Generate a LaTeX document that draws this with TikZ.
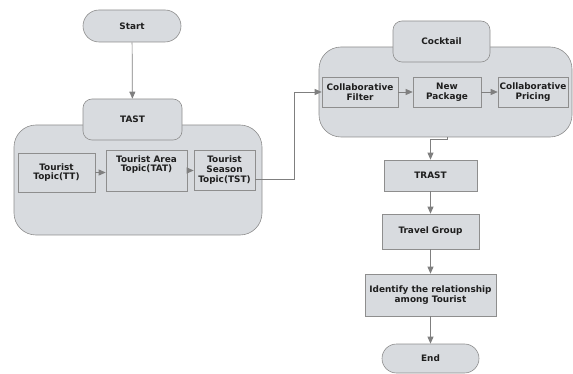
\documentclass[tikz,border=0pt]{standalone}
\usepackage{fontspec}
\setmainfont{DejaVu Sans}
\usetikzlibrary{arrows.meta}
\definecolor{boxfill}{HTML}{D8DBDF}
\definecolor{boxline}{HTML}{8E8E8E}
\definecolor{arrowc}{HTML}{7F7F7F}
\definecolor{txt}{HTML}{1E1E1E}
\begin{document}
\begin{tikzpicture}[x=1pt,y=-1pt,
  base/.style={draw=boxline, fill=boxfill, line width=0.6pt, inner sep=1pt, align=center,
    text=txt, font=\fontsize{8.9}{9.8}\selectfont\bfseries},
  rbox/.style={base, rectangle},
  stadium/.style={base, rounded corners=#1},
  cont/.style={base, rounded corners=22pt},
  conn/.style={draw=arrowc, line width=0.7pt, -{Triangle[length=7pt,width=6pt]}},
  plain/.style={draw=arrowc, line width=0.7pt}
]
\useasboundingbox (0,0) rectangle (573,374);
% Start
\node[stadium=16pt, minimum width=98pt, minimum height=32pt] (start) at (132,26) {Start};
% TAST container and tab
\node[cont, minimum width=248pt, minimum height=110pt] (tastc) at (138,180) {};
\node[stadium=9pt, minimum width=99pt, minimum height=41pt] (tast) at (132.5,119.5) {TAST};
\node[rbox, minimum width=77pt, minimum height=39pt] (tt) at (56.5,172.5) {Tourist\\Topic(TT)};
\node[rbox, minimum width=81pt, minimum height=41pt] (tat) at (146.5,170.5) {Tourist Area\\Topic(TAT)\\[4pt]};
\node[rbox, minimum width=61pt, minimum height=40pt, inner sep=0pt] (tst) at (224.5,170) {Tourist\\Season\\Topic(TST)};
% Cocktail container and tab
\node[cont, minimum width=253pt, minimum height=90pt] (cockc) at (445.5,92) {};
\node[stadium=9pt, minimum width=97pt, minimum height=41pt] (cock) at (441.5,41.5) {Cocktail};
\node[rbox, minimum width=76pt, minimum height=30pt, inner sep=0pt] (cf) at (360,92) {Collaborative\\Filter};
\node[rbox, minimum width=68pt, minimum height=30pt] (np) at (447,92) {New\\Package};
\node[rbox, minimum width=70pt, minimum height=30pt, inner sep=0pt] (cp) at (533,92) {Collaborative\\Pricing};
% Lower chain
\node[rbox, minimum width=93pt, minimum height=31pt] (trast) at (430.5,175.5) {TRAST};
\node[rbox, minimum width=97pt, minimum height=35pt] (tg) at (430.5,231.5) {Travel Group};
\node[rbox, minimum width=131pt, minimum height=42pt, inner sep=0pt] (idf) at (430.5,295) {Identify the relationship\\among Tourist};
\node[stadium=14.5pt, minimum width=97pt, minimum height=29pt] (end) at (430.5,358.5) {End};
% Connectors
\draw[conn] (start) -- (tast);
\draw[conn] (tt.east) -- (tt.east -| tat.west);
\draw[conn] (tat.east) -- (tat.east -| tst.west);
\coordinate (j1) at (294,179);
\draw[conn] (tst.east |- j1) -- (j1) |- (cf.west);
\draw[conn] (cf) -- (np);
\draw[conn] (np) -- (cp);
\coordinate (j2) at (447,139);
\draw[conn] (cockc.south -| j2) -- (j2) -| (trast.north);
\draw[conn] (trast) -- (tg);
\draw[conn] (tg) -- (idf);
\draw[conn] (idf) -- (end);
\end{tikzpicture}
\end{document}
